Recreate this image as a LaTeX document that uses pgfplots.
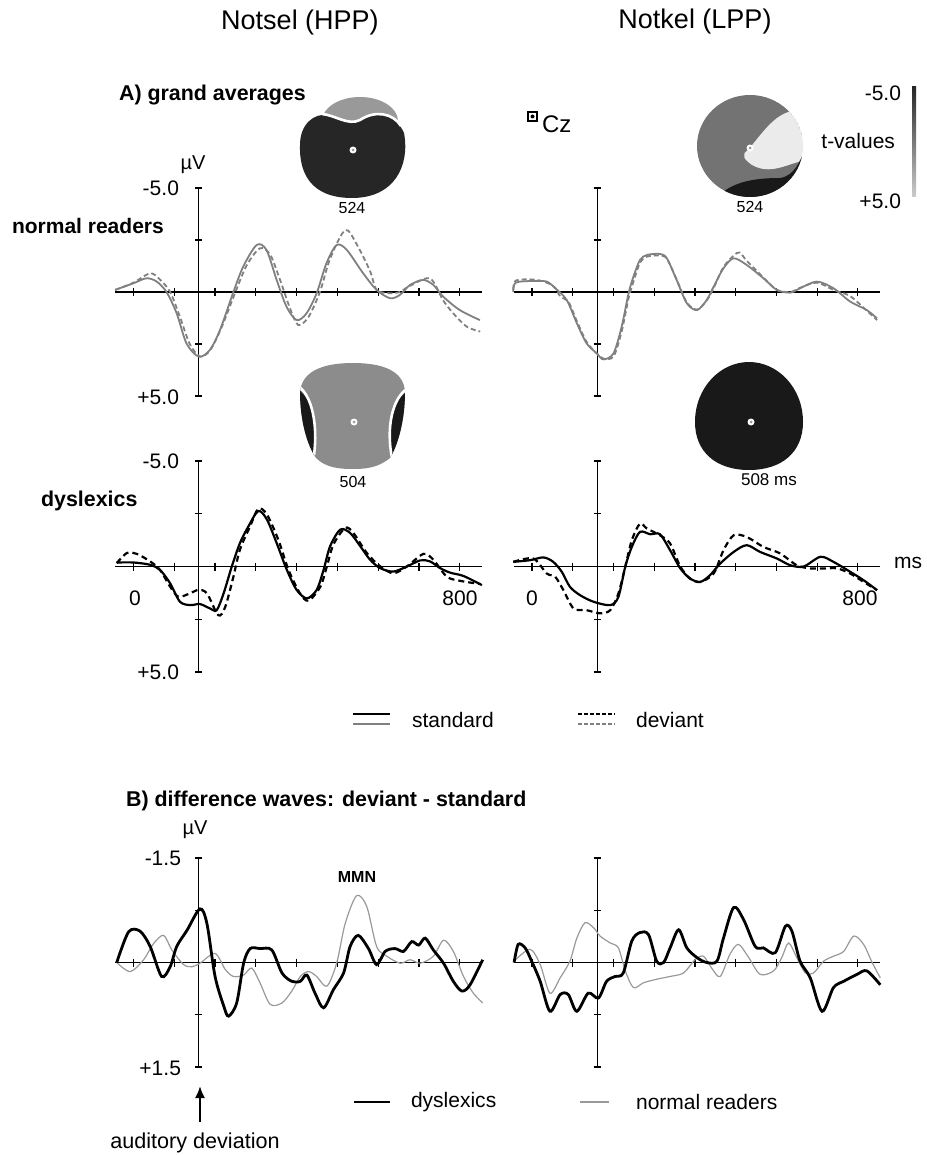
\documentclass[border=0pt]{standalone}
\usepackage{pgfplots}
\pgfplotsset{compat=1.18}
\usepackage{fontspec}
\setmainfont{Liberation Sans}
\usetikzlibrary{arrows.meta}
\definecolor{nrgray}{gray}{0.5}
\definecolor{nrlight}{gray}{0.6}
\newcommand{\fs}[1]{\fontsize{#1}{#1}\selectfont}
\tikzset{axl/.style={black, line width=0.6pt}}
\pgfplotsset{
  erp/.style={scale only axis, axis lines=none, clip=false, xmin=-45, xmax=855,
    y dir=reverse, anchor=south west, width=183.6pt},
  stdN/.style={nrgray, line width=0.9pt, smooth},
  devN/.style={nrgray, line width=0.9pt, smooth, dash pattern=on 2.5pt off 1.5pt},
  stdD/.style={black, line width=1.1pt, smooth},
  devD/.style={black, line width=1.1pt, smooth, dash pattern=on 3pt off 2pt},
  difD/.style={black, line width=1.4pt, smooth},
  difN/.style={nrlight, line width=0.6pt, smooth},
}
\newcommand{\axesA}{%
  \draw[axl] (axis cs:-45,0) -- (axis cs:855,0);
  \draw[axl] (axis cs:160,-5) -- (axis cs:160,5);
  \pgfplotsinvokeforeach{0,100,200,300,400,500,600,700,800}{\draw[axl] ([yshift=2pt]axis cs:##1,0) -- ([yshift=-2pt]axis cs:##1,0);}
  \pgfplotsinvokeforeach{-5,-2.5,2.5,5}{\draw[axl] ([xshift=-1.8pt]axis cs:160,##1) -- ([xshift=1.8pt]axis cs:160,##1);}
}
\newcommand{\axesB}{%
  \draw[axl] (axis cs:-45,0) -- (axis cs:855,0);
  \draw[axl] (axis cs:160,-1.5) -- (axis cs:160,1.5);
  \pgfplotsinvokeforeach{0,100,200,300,400,500,600,700,800}{\draw[axl] ([yshift=2pt]axis cs:##1,0) -- ([yshift=-2pt]axis cs:##1,0);}
  \pgfplotsinvokeforeach{-1.5,-0.75,0.75,1.5}{\draw[axl] ([xshift=-1.8pt]axis cs:160,##1) -- ([xshift=1.8pt]axis cs:160,##1);}
}
\begin{document}
\begin{tikzpicture}
\begin{scope}[x=0.5pt,y=-0.5pt]
\useasboundingbox (0,0) rectangle (926,1155);
% titles
\node[font=\fs{13.5}] at (300,23) {Notsel (HPP)};
\node[font=\fs{13.5}] at (695,22) {Notkel (LPP)};
\node[font=\fs{10.7}\bfseries, anchor=west] at (112,95) {A) grand averages};
\node[font=\fs{10.5}\bfseries, anchor=west] at (5,226) {normal readers};
\node[font=\fs{10.7}\bfseries, anchor=west] at (34,501) {dyslexics};
\node[font=\fs{10.7}\bfseries, anchor=west] at (119,801) {B) difference waves: deviant - standard};
% y labels
\node[font=\fs{10}] at (193,165) {µV};
\node[font=\fs{10.5}, anchor=east] at (186,188) {-5.0};
\node[font=\fs{10.5}, anchor=east] at (186,397) {+5.0};
\node[font=\fs{10.5}, anchor=east] at (186,461) {-5.0};
\node[font=\fs{10.5}, anchor=east] at (186,672) {+5.0};
\node[font=\fs{10.5}] at (135,598) {0};
\node[font=\fs{10.5}] at (460,598) {800};
\node[font=\fs{10.5}] at (532,598) {0};
\node[font=\fs{10.5}] at (860,598) {800};
\node[font=\fs{10.5}] at (908,563) {ms};
\node[font=\fs{10}] at (195,830) {µV};
\node[font=\fs{10.5}, anchor=east] at (188,858) {-1.5};
\node[font=\fs{10.5}, anchor=east] at (188,1068) {+1.5};
\node[font=\fs{8}\bfseries] at (357,877) {MMN};
% Cz
\draw[line width=0.8pt] (528,112) rectangle (537,121);
\fill (532.5,116.5) circle (2);
\node[font=\fs{12}, anchor=west] at (535,124) {Cz};
% t-value bar
\shade[top color=black!85, bottom color=black!20] (912,87) rectangle (916,197);
\node[font=\fs{10.5}, anchor=east] at (908,93) {-5.0};
\node[font=\fs{10.5}, anchor=east] at (902,141) {t-values};
\node[font=\fs{10.5}, anchor=east] at (908,201) {+5.0};
% topo NL
\fill[black!40] (360,121) ellipse (38 and 24);
\fill[black!85] (300,145) .. controls (300,124) and (314,113) .. (328,115) .. controls (343,118) and (350,126) .. (360,120) .. controls (375,110) and (396,114) .. (404,133) .. controls (410,165) and (395,198) .. (352,198) .. controls (310,198) and (299,172) .. (300,145) -- cycle;
\draw[white, line width=1.3pt] (322,114) .. controls (335,115) and (348,126) .. (360,120) .. controls (375,110) and (393,113) .. (401,126);
\fill[white] (353,150) circle (3.5); \fill[black!40] (353,150) circle (1.5);
\node[font=\fs{8}] at (352,208) {524};
% topo NR
\begin{scope}
\clip (750,146) ellipse (53 and 51);
\fill[black!55] (750,146) ellipse (53 and 51);
\fill[black!8] (748,150) .. controls (765,130) and (780,105) .. (805,112) -- (805,160) .. controls (785,165) and (770,175) .. (752,165) .. controls (745,160) and (740,155) .. cycle;
\fill[black!90] (715,200) .. controls (730,180) and (760,178) .. (780,178) .. controls (795,176) and (800,160) .. (805,150) -- (805,200) -- cycle;
\fill[black!90] (696,170) -- (706,175) -- (704,186) -- cycle;
\end{scope}
\fill[white] (750,148) circle (3.5); \fill[black!40] (750,148) circle (1.5);
\node[font=\fs{8}] at (750,207) {524};
% topo DL
\begin{scope}
\clip (300,392) .. controls (302,370) and (325,363) .. (353,363) .. controls (381,363) and (404,370) .. (405,392) .. controls (405,420) and (398,445) .. (390,458) .. controls (378,468) and (365,469) .. (353,469) .. controls (340,469) and (326,468) .. (316,458) .. controls (307,445) and (300,420) .. (300,392) -- cycle;
\fill[black!45] (295,355) rectangle (410,475);
\fill[black!90] (295,388) .. controls (312,395) and (318,425) .. (314,455) -- (295,455) -- cycle;
\fill[black!90] (410,390) .. controls (392,398) and (386,428) .. (392,458) -- (410,458) -- cycle;
\draw[white, line width=1.3pt] (298,386) .. controls (312,395) and (318,425) .. (314,455);
\draw[white, line width=1.3pt] (408,388) .. controls (392,398) and (386,428) .. (392,458);
\end{scope}
\fill[white] (354,422) circle (3.5); \fill[black!40] (354,422) circle (1.5);
\node[font=\fs{8}] at (353,482) {504};
% topo DR
\fill[black!90] (749,362) .. controls (778,362) and (803,388) .. (803,422) .. controls (803,452) and (782,470) .. (749,470) .. controls (716,470) and (695,452) .. (695,422) .. controls (695,388) and (720,362) .. cycle;
\fill[white] (751,422) circle (3.5); \fill[black!40] (751,422) circle (1.5);
\node[font=\fs{8.5}, anchor=west] at (734,480) {508 ms};
% legend A
\draw[black, line width=0.9pt] (353,714) -- (390,714);
\draw[nrgray, line width=0.6pt] (353,724) -- (390,724);
\node[font=\fs{10.5}, anchor=west] at (405,720) {standard};
\draw[black, line width=0.9pt, dash pattern=on 2pt off 1pt] (578,714) -- (615,714);
\draw[nrgray, line width=0.6pt, dash pattern=on 2pt off 1pt] (578,724) -- (615,724);
\node[font=\fs{10.5}, anchor=west] at (629,720) {deviant};
% legend B
\draw[black, line width=0.8pt] (354,1102) -- (390,1102);
\node[font=\fs{10.5}, anchor=west] at (404,1102) {dyslexics};
\draw[nrlight, line width=0.6pt] (580,1102) -- (609,1102);
\node[font=\fs{10.5}, anchor=west] at (629,1102) {normal readers};
% arrow
\draw[-{Latex[length=6pt,width=5pt]}, line width=1pt] (200,1122) -- (200,1086);
\node[font=\fs{10.8}] at (195,1143) {auditory deviation};
\end{scope}

% ---------- normal readers left
\begin{axis}[erp, at={(57.55pt,-198pt)}, height=104pt, ymin=-5, ymax=5]
\axesA
\addplot[stdN] coordinates {(-45,-0.1)(0,-0.42)(32,-0.66)(57,-0.5)(81,0)(106,1.03)(130,2.47)(160,3.11)(187,2.79)(212,1.83)(245,0)(269,-1.22)(302,-2.26)(326,-2.02)(351,-0.58)(375,0.7)(400,1.35)(424,1.03)(449,0.06)(473,-1.38)(498,-2.26)(523,-2.02)(563,-0.9)(596,-0.1)(629,0.3)(653,0.14)(678,-0.34)(710,-0.58)(735,-0.34)(759,0.22)(800,0.87)(849,1.35)};
\addplot[devN] coordinates {(-45,-0.1)(0,-0.45)(41,-0.9)(65,-0.6)(90,0)(114,1.2)(138,2.5)(163,3.1)(188,2.8)(216,1.7)(250,0)(278,-1.3)(310,-2.1)(335,-1.8)(359,-0.6)(384,0.8)(404,1.59)(429,1.2)(457,0)(482,-1.6)(519,-2.98)(547,-2.3)(580,-1.0)(596,-0.1)(629,0.06)(653,0)(678,-0.3)(727,-0.65)(759,0.4)(784,1.03)(817,1.67)(850,1.9)};
\end{axis}
% ---------- normal readers right
\begin{axis}[erp, at={(256.85pt,-198pt)}, width=183.3pt, height=104pt, ymin=-5, ymax=5]
\axesA
\addplot[stdN] coordinates {(-46,0)(-40,-0.45)(3,-0.53)(36,-0.5)(57,-0.18)(85,0.38)(110,1.5)(134,2.47)(159,2.95)(175,3.24)(200,2.95)(220,1.67)(237,0.06)(249,-0.74)(265,-1.54)(282,-1.78)(314,-1.83)(331,-1.62)(355,-0.58)(380,0.54)(405,0.87)(429,0.38)(446,-0.26)(470,-1.14)(495,-1.62)(527,-1.3)(568,-0.66)(601,-0.1)(634,0.03)(658,-0.18)(699,-0.5)(740,-0.18)(781,0.46)(822,0.87)(847,1.27)};
\addplot[devN] coordinates {(-46,-0.1)(-40,-0.55)(3,-0.6)(36,-0.45)(57,-0.2)(69,0.2)(90,0.5)(110,1.4)(134,2.4)(159,2.95)(175,3.2)(200,3.1)(220,1.9)(237,0.3)(249,-0.5)(265,-1.4)(282,-1.7)(314,-1.75)(331,-1.6)(355,-0.6)(380,0.5)(405,0.85)(429,0.4)(446,-0.2)(470,-1.2)(495,-1.75)(510,-1.9)(527,-1.5)(568,-0.7)(601,-0.1)(634,0)(658,-0.2)(699,-0.45)(740,-0.1)(781,0.2)(822,0.9)(847,1.35)};
\end{axis}
% ---------- dyslexics left
\begin{axis}[erp, at={(57.55pt,-336pt)}, height=105.5pt, ymin=-5, ymax=5]
\axesA
\addplot[stdD] coordinates {(-41,-0.19)(0,-0.19)(41,-0.08)(65,0.16)(90,0.8)(114,1.67)(139,1.83)(163,1.78)(188,1.99)(204,2.07)(221,1.27)(241,0)(261,-1.11)(282,-1.91)(306,-2.63)(327,-2.23)(351,-1.11)(376,0.16)(400,1.11)(425,1.51)(449,1.11)(466,0.16)(482,-0.96)(507,-1.75)(531,-1.59)(556,-0.96)(580,-0.32)(605,0.08)(637,0.24)(670,0)(703,-0.29)(727,-0.24)(752,0.08)(776,0.29)(809,0.45)(854,0.88)};
\addplot[devD] coordinates {(-41,-0.16)(-16,-0.64)(8,-0.6)(41,-0.24)(65,0.16)(90,0.96)(110,1.43)(139,1.27)(159,1.11)(180,1.27)(208,2.31)(225,1.91)(245,0.48)(261,-0.8)(286,-1.91)(306,-2.74)(327,-2.47)(355,-1.27)(380,0.16)(408,1.27)(429,1.62)(458,0.96)(474,0)(490,-1.04)(519,-1.83)(539,-1.59)(572,-0.64)(605,0)(637,0.32)(670,0)(711,-0.6)(735,-0.32)(768,0.48)(801,0.68)(850,0.83)};
\end{axis}
% ---------- dyslexics right
\begin{axis}[erp, at={(256.85pt,-336pt)}, width=183.3pt, height=105.5pt, ymin=-5, ymax=5]
\axesA
\addplot[stdD] coordinates {(-46,-0.22)(-5,-0.3)(28,-0.43)(52,-0.22)(73,0.25)(93,0.96)(118,1.36)(151,1.67)(192,1.83)(212,1.44)(229,0)(245,-0.93)(265,-1.64)(290,-1.53)(314,-1.53)(339,-0.77)(364,0.09)(388,0.57)(413,0.73)(437,0.41)(462,-0.14)(495,-0.69)(527,-1.01)(560,-0.69)(601,-0.38)(634,-0.06)(667,0)(708,-0.46)(740,-0.22)(781,0.25)(814,0.65)(847,1.12)};
\addplot[devD] coordinates {(-46,-0.22)(3,-0.38)(36,0.33)(57,0.49)(77,1.12)(102,1.99)(134,2.07)(167,2.22)(192,2.07)(212,1.28)(229,0)(245,-1.25)(265,-2.03)(282,-1.8)(314,-1.48)(339,-1.09)(364,0)(388,0.57)(413,0.73)(446,0.33)(470,-0.77)(495,-1.48)(527,-1.4)(568,-0.93)(609,-0.62)(650,-0.06)(683,0.09)(720,0.09)(749,0.09)(781,0.33)(814,0.73)(847,1.12)};
\end{axis}
% ---------- difference left
\begin{axis}[erp, at={(57.55pt,-533.5pt)}, height=104.5pt, ymin=-1.5, ymax=1.5]
\axesB
\addplot[difN] coordinates {(-41,0)(-8,0.13)(25,-0.04)(49,-0.27)(74,-0.39)(94,-0.18)(123,0.03)(143,0.06)(163,0.01)(200,-0.13)(225,0.1)(245,0.2)(270,0.18)(290,0.08)(310,0.29)(335,0.6)(364,0.58)(388,0.41)(409,0.2)(429,0.13)(449,0.2)(474,0.34)(498,0.01)(519,-0.56)(547,-0.96)(572,-0.8)(596,-0.23)(621,-0.09)(654,0.01)(678,-0.04)(703,0.01)(735,-0.09)(760,-0.32)(784,-0.16)(809,0.2)(833,0.44)(856,0.58)};
\addplot[difD] coordinates {(-41,0)(-12,-0.44)(16,-0.45)(41,-0.23)(69,0.2)(90,0.06)(106,-0.23)(131,-0.46)(163,-0.77)(180,-0.56)(200,0.2)(221,0.62)(233,0.77)(253,0.58)(270,0.01)(286,-0.2)(310,-0.2)(339,-0.18)(364,0.15)(388,0.27)(409,0.27)(425,0.18)(445,0.44)(466,0.65)(490,0.39)(515,0.15)(531,-0.23)(551,-0.39)(576,-0.2)(596,0.03)(617,-0.16)(641,-0.2)(662,-0.16)(682,-0.3)(699,-0.25)(715,-0.35)(735,-0.18)(760,0.01)(784,0.27)(805,0.41)(825,0.32)(856,-0.04)};
\end{axis}
% ---------- difference right
\begin{axis}[erp, at={(256.85pt,-533.5pt)}, width=183.3pt, height=104.5pt, ymin=-1.5, ymax=1.5]
\axesB
\addplot[difN] coordinates {(-44,-0.02)(-5,-0.19)(20,0.03)(44,0.44)(69,0.22)(93,-0.02)(110,-0.35)(130,-0.57)(151,-0.5)(167,-0.38)(192,-0.28)(212,-0.21)(229,0.12)(249,0.36)(274,0.29)(306,0.24)(339,0.2)(372,0.15)(400,-0.04)(421,-0.09)(441,0.08)(462,0.2)(486,-0.12)(507,-0.26)(532,-0.07)(560,0.17)(593,0.12)(613,-0.07)(630,-0.28)(650,-0.07)(671,0.15)(691,0.15)(716,-0.02)(740,-0.09)(765,-0.16)(790,-0.38)(814,-0.26)(835,0)(855,0.22)};
\addplot[difD] coordinates {(-44,0)(-34,-0.26)(-17,-0.21)(-1,-0.02)(20,0.27)(44,0.7)(69,0.46)(89,0.46)(110,0.7)(138,0.44)(163,0.51)(183,0.27)(204,0.2)(224,0.15)(245,-0.31)(265,-0.43)(286,-0.4)(306,-0.02)(323,0)(339,-0.21)(360,-0.47)(380,-0.21)(405,-0.07)(429,0)(454,-0.02)(470,-0.35)(495,-0.79)(519,-0.62)(548,-0.23)(568,-0.21)(597,-0.14)(622,-0.52)(638,-0.45)(658,-0.02)(683,0.22)(712,0.7)(740,0.36)(765,0.27)(798,0.17)(822,0.12)(855,0.32)};
\end{axis}
\end{tikzpicture}
\end{document}
